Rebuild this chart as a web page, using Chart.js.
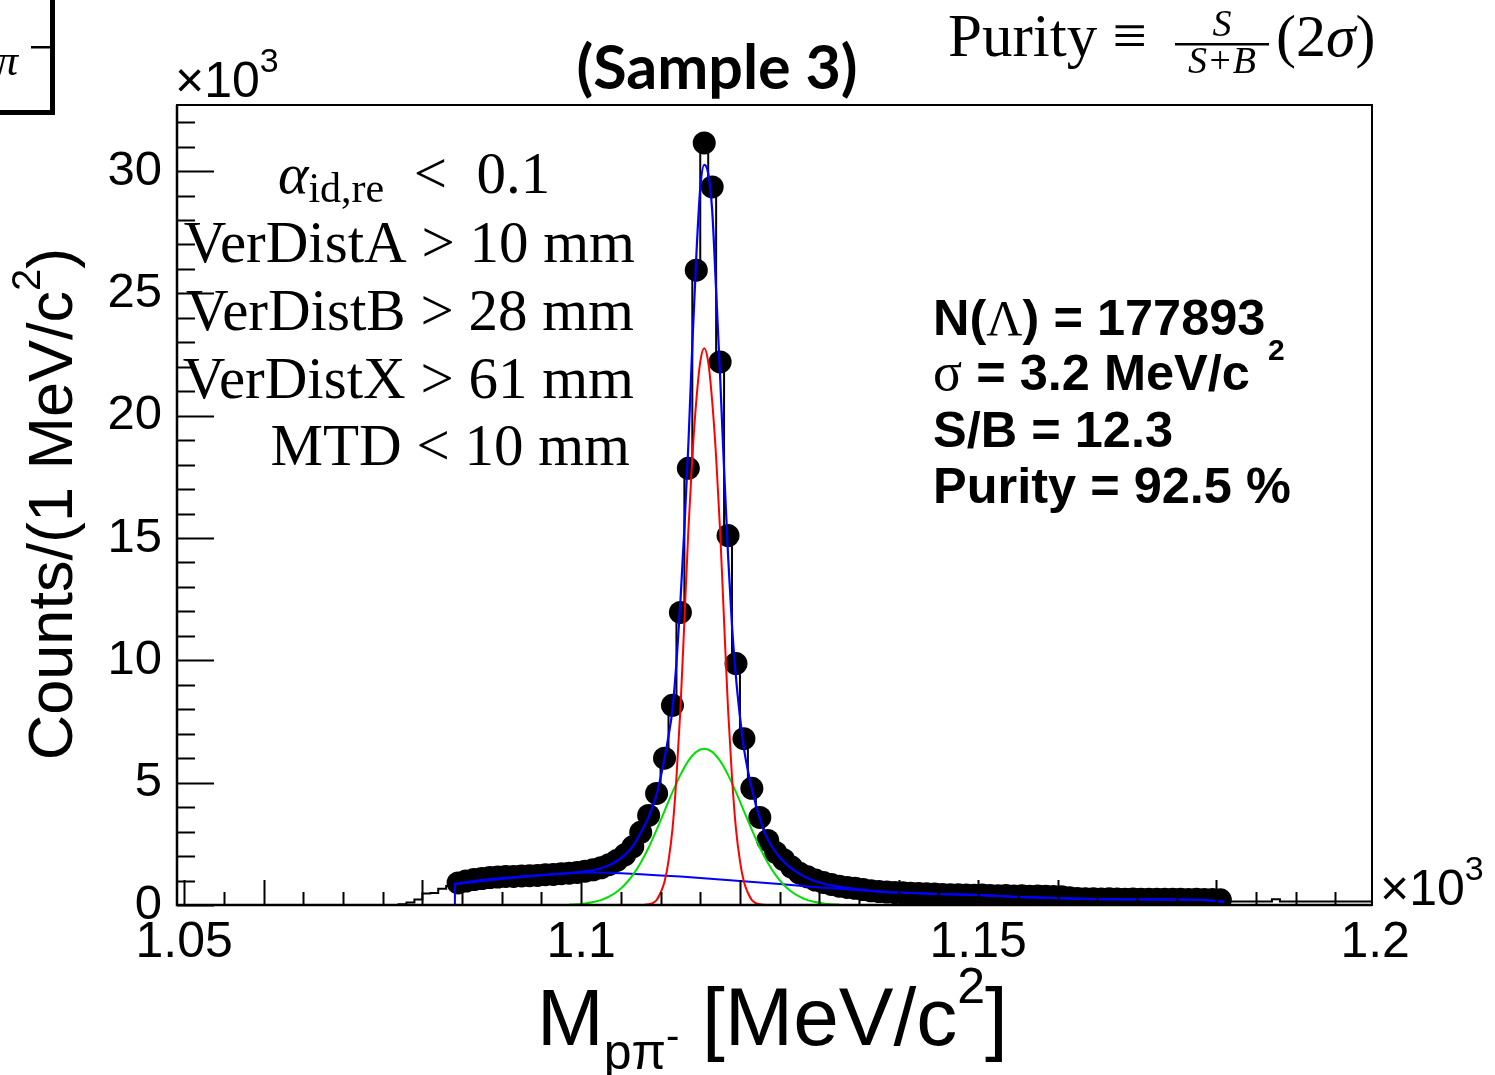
<!DOCTYPE html>
<html>
<head>
<meta charset="utf-8">
<script src="https://cdn.jsdelivr.net/npm/chart.js@4.4.1/dist/chart.umd.min.js"></script>
<style>
  html, body { margin: 0; padding: 0; background: #fff; }
  #wrap { width: 1495px; height: 1075px; }
</style>
</head>
<body>
<div id="wrap"><canvas id="massChart" width="1495" height="1075"></canvas></div>
<script>
// ---- data (counts in units of 10^3, mass in units of 10^3 MeV/c^2) ----
const firstBin = 1.0845;
const binWidth = 0.001;
const counts = [
  0.90, 0.98, 1.04, 1.08, 1.12, 1.14, 1.17, 1.17, 1.19, 1.20,
  1.21, 1.24, 1.25, 1.28, 1.30, 1.33, 1.38, 1.44, 1.52, 1.65,
  1.82, 2.05, 2.38, 2.97, 3.66, 4.56, 6.00, 8.16, 11.96, 17.85,
  25.95, 31.15, 29.35, 22.2, 15.1, 9.87, 6.80, 4.77, 3.58, 2.64,
  2.15, 1.85, 1.55, 1.30, 1.15, 1.02, 0.92, 0.84, 0.77, 0.72,
  0.68, 0.63, 0.58, 0.55, 0.53, 0.51, 0.50, 0.48, 0.47, 0.46,
  0.45, 0.43, 0.42, 0.42, 0.41, 0.40, 0.41, 0.39, 0.38, 0.39,
  0.37, 0.38, 0.36, 0.37, 0.36, 0.35, 0.34, 0.30, 0.27, 0.26,
  0.26, 0.25, 0.26, 0.25, 0.24, 0.25, 0.24, 0.24, 0.23, 0.24,
  0.23, 0.23, 0.22, 0.23, 0.22, 0.22, 0.21
];
// histogram outline outside the fitted range
const lowSideCenters = [1.0765, 1.0775, 1.0785, 1.0795, 1.0805, 1.0815, 1.0825, 1.0835];
const lowSideCounts  = [0, 0.03, 0.10, 0.22, 0.47, 0.49, 0.66, 0.78];
const highSideCenters = [1.1815, 1.1825, 1.1835, 1.1845, 1.1855, 1.1865, 1.1875, 1.1885, 1.1895, 1.1905,
                         1.1915, 1.1925, 1.1935, 1.1945, 1.1955, 1.1965, 1.1975, 1.1985, 1.1995];
const highSideCounts  = [0.14, 0.14, 0.14, 0.14, 0.14, 0.14, 0.24, 0.14, 0.14, 0.14,
                         0.14, 0.14, 0.14, 0.14, 0.14, 0.14, 0.14, 0.14, 0.14];

// total fit (blue)
const totalX = [1.0841, 1.086, 1.088, 1.09, 1.092, 1.094, 1.096, 1.098, 1.1, 1.1015,
                1.1025, 1.1035, 1.1045, 1.1055, 1.1065, 1.1075, 1.1085, 1.1095, 1.11, 1.1105,
                1.111, 1.1115, 1.112, 1.1125, 1.113, 1.1135, 1.114, 1.1145, 1.115, 1.1155,
                1.116, 1.1165, 1.117, 1.1175, 1.118, 1.1185, 1.119, 1.1195, 1.12, 1.1205,
                1.121, 1.1215, 1.122, 1.1225, 1.123, 1.1235, 1.124, 1.125, 1.126, 1.127,
                1.128, 1.129, 1.13, 1.132, 1.134, 1.136, 1.138, 1.14, 1.145, 1.15,
                1.155, 1.16, 1.165, 1.17, 1.175, 1.179, 1.181];
const totalY = [0.86, 0.96, 1.04, 1.10, 1.15, 1.20, 1.24, 1.29, 1.36, 1.42,
                1.50, 1.62, 1.80, 2.05, 2.40, 2.95, 3.60, 4.50, 5.20, 6.00,
                6.90, 8.00, 9.90, 12.4, 15.4, 18.8, 22.9, 26.5, 29.3, 30.25,
                29.9, 28.4, 25.1, 21.6, 17.8, 14.3, 11.4, 9.3, 7.7, 6.4,
                5.5, 4.75, 4.10, 3.55, 3.05, 2.70, 2.40, 1.95, 1.62, 1.38,
                1.18, 1.03, 0.92, 0.77, 0.68, 0.60, 0.54, 0.51, 0.45, 0.41,
                0.33, 0.28, 0.24, 0.23, 0.22, 0.19, 0.12];

// background (blue)
const bgX = [1.0841, 1.0841, 1.0875, 1.09, 1.0925, 1.095, 1.0975, 1.1, 1.1025, 1.105,
             1.1075, 1.11, 1.1125, 1.115, 1.1175, 1.12, 1.1225, 1.125, 1.1275, 1.13,
             1.1325, 1.135, 1.1375, 1.14, 1.145, 1.15, 1.155, 1.16, 1.165, 1.17,
             1.175, 1.179, 1.181];
const bgY = [0, 0.85, 0.98, 1.06, 1.14, 1.22, 1.28, 1.33, 1.33, 1.30,
             1.26, 1.21, 1.16, 1.10, 1.04, 0.98, 0.92, 0.86, 0.79, 0.72,
             0.66, 0.60, 0.55, 0.51, 0.45, 0.41, 0.33, 0.28, 0.24, 0.23,
             0.22, 0.19, 0.12];

// narrow gaussian (red)
const narrowX = [1.108, 1.1085, 1.109, 1.1095, 1.11, 1.1105, 1.111, 1.1115, 1.112, 1.1125,
                 1.113, 1.1135, 1.114, 1.1145, 1.115, 1.1155, 1.116, 1.1165, 1.117, 1.1175,
                 1.118, 1.1185, 1.119, 1.1195, 1.12, 1.1205, 1.121, 1.1215, 1.122, 1.1225,
                 1.123, 1.1235];
const narrowY = [0.01, 0.03, 0.08, 0.2, 0.5, 0.95, 1.8, 3.1, 5.2, 8.0,
                 11.6, 15.3, 18.3, 20.6, 22.2, 22.76, 22.2, 20.6, 18.3, 15.3,
                 11.6, 8.0, 5.2, 3.1, 1.8, 0.95, 0.5, 0.2, 0.08, 0.03,
                 0.01, 0.0];

// wide gaussian (green)
const wideX = [1.0985, 1.0995, 1.1005, 1.1015, 1.1025, 1.1035, 1.1045, 1.1055, 1.1065, 1.1075,
               1.1085, 1.1095, 1.1105, 1.1115, 1.1125, 1.1135, 1.1145, 1.1155, 1.1165, 1.1175,
               1.1185, 1.1195, 1.1205, 1.1215, 1.1225, 1.1235, 1.1245, 1.1255, 1.1265, 1.1275,
               1.1285, 1.1295, 1.1305, 1.1315, 1.1325];
const wideY = [0.02, 0.03, 0.06, 0.12, 0.20, 0.34, 0.54, 0.83, 1.22, 1.73,
               2.35, 3.07, 3.84, 4.61, 5.32, 5.89, 6.26, 6.39, 6.26, 5.89,
               5.32, 4.61, 3.84, 3.07, 2.35, 1.73, 1.22, 0.83, 0.54, 0.34,
               0.20, 0.12, 0.06, 0.03, 0.02];

// axes
const xLabelTicks = [1.05, 1.1, 1.15, 1.2];
const xMajorTicks = [1.05, 1.06, 1.08, 1.10, 1.12, 1.14, 1.15, 1.16, 1.18];
const yLabelTicks = [0, 5, 10, 15, 20, 25, 30];

const SANS = '"Liberation Sans", Arial, Helvetica, sans-serif';
const SERIF = '"Liberation Serif", "Times New Roman", serif';

// ---- helpers ----
const toPoints = (xs, ys) => xs.map((x, i) => ({ x: x, y: ys[i] }));
const binCenters = counts.map((_, i) => firstBin + i * binWidth);

function drawRuns(ctx, x, y, runs, align) {
    // runs: [text, font, dy]
    let total = 0;
    runs.forEach(r => { ctx.font = r[1]; total += ctx.measureText(r[0]).width; });
    let cx = x;
    if (align === 'center') cx = x - total / 2;
    if (align === 'right') cx = x - total;
    runs.forEach(r => {
        ctx.font = r[1];
        ctx.fillText(r[0], cx, y + (r[2] || 0));
        cx += ctx.measureText(r[0]).width;
    });
    return cx;
}

// ROOT-like frame, inward ticks and annotations
const rootFrame = {
    id: 'rootFrame',
    afterDatasetsDraw(chart) {
        const { ctx, chartArea: a } = chart;
        const xs = chart.scales.x, ys = chart.scales.y;
        ctx.save();
        ctx.strokeStyle = '#000';
        ctx.lineWidth = 2;
        ctx.strokeRect(a.left, a.top, a.right - a.left, a.bottom - a.top);
        ctx.lineWidth = 2.5;
        ctx.beginPath();
        ctx.moveTo(a.left, a.top); ctx.lineTo(a.left, a.bottom); ctx.lineTo(a.right, a.bottom);
        ctx.stroke();

        // x ticks every 5 MeV
        ctx.lineWidth = 2;
        ctx.beginPath();
        for (let k = 0; k < 30; k++) {
            const v = 1.05 + k * 0.005;
            const px = Math.round(xs.getPixelForValue(v)) + 0.5;
            const tall = xMajorTicks.some(m => Math.abs(m - v) < 1e-6);
            ctx.moveTo(px, a.bottom);
            ctx.lineTo(px, a.bottom - (tall ? 25 : 13));
        }
        // y ticks every 1 (x10^3)
        for (let k = 0; k <= 32; k++) {
            const py = Math.round(ys.getPixelForValue(k)) + 0.5;
            ctx.moveTo(a.left, py);
            ctx.lineTo(a.left + (k % 5 === 0 ? 37 : 18), py);
        }
        ctx.stroke();
        ctx.restore();
    },
    afterDraw(chart) {
        const { ctx } = chart;
        ctx.save();
        ctx.fillStyle = '#000';
        ctx.textBaseline = 'alphabetic';
        ctx.textAlign = 'left';

        // x10^3 exponents
        drawRuns(ctx, 175, 97, [['\u00d710', `50px ${SANS}`], ['3', `34px ${SANS}`, -25]]);
        drawRuns(ctx, 1380, 905, [['\u00d710', `50px ${SANS}`], ['3', `34px ${SANS}`, -25]]);

        // x axis title
        drawRuns(ctx, 537, 1045, [
            ['M', `80px ${SANS}`],
            ['p\u03c0', `50px ${SANS}`, 24],
            ['-', `40px ${SANS}`, 4],
            [' [MeV/c', `82px ${SANS}`],
            ['2', `50px ${SANS}`, -42],
            [']', `82px ${SANS}`]
        ]);

        // y axis title (rotated)
        ctx.save();
        ctx.translate(72, 504);
        ctx.rotate(-Math.PI / 2);
        drawRuns(ctx, 0, 0, [
            ['Counts/(1 MeV/c', `63px ${SANS}`],
            ['2', `40px ${SANS}`, -32],
            [')', `63px ${SANS}`]
        ], 'center');
        ctx.restore();

        // title
        ctx.font = `bold 61px Lato, "Open Sans", sans-serif`;
        ctx.textAlign = 'center';
        ctx.fillText('(Sample 3)', 717, 89);
        ctx.textAlign = 'left';

        // purity definition
        drawRuns(ctx, 948, 56, [['Purity \u2261', `61px ${SERIF}`]]);
        ctx.font = `italic 38px ${SERIF}`;
        ctx.textAlign = 'center';
        ctx.fillText('S', 1222, 36);
        ctx.fillText('S+B', 1222, 73);
        ctx.textAlign = 'left';
        ctx.fillRect(1175, 43, 94, 2.5);
        drawRuns(ctx, 1276, 56, [['(2', `60px ${SERIF}`], ['\u03c3', `italic 60px ${SERIF}`], [')', `60px ${SERIF}`]]);

        // selection cuts
        drawRuns(ctx, 278, 193, [
            ['\u03b1', `italic 58px ${SERIF}`],
            ['id,re', `42px ${SERIF}`, 9],
            ['  <  0.1', `59px ${SERIF}`]
        ]);
        const C = `59px ${SERIF}`;
        drawRuns(ctx, 635, 262, [['VerDistA > 10 mm', C]], 'right');
        drawRuns(ctx, 634, 330, [['VerDistB > 28 mm', C]], 'right');
        drawRuns(ctx, 634, 398, [['VerDistX > 61 mm', C]], 'right');
        drawRuns(ctx, 630, 465, [['MTD < 10 mm', C]], 'right');

        // fit results
        const B = `bold 50.5px ${SANS}`;
        drawRuns(ctx, 933, 335, [['N(', B], ['\u039b', `50px ${SERIF}`], [') = 177893', B]]);
        drawRuns(ctx, 933, 390, [['\u03c3', `54px ${SERIF}`], [' = 3.2 MeV/c', B]]);
        ctx.font = `bold 30px ${SANS}`;
        ctx.fillText('2', 1268, 360);
        drawRuns(ctx, 933, 447, [['S/B = 12.3', B]]);
        drawRuns(ctx, 933, 503, [['Purity = 92.5 %', B]]);

        // corner fragment of neighbouring pad
        ctx.font = `italic 44px ${SERIF}`;
        ctx.fillText('\u03c0', -4, 75);
        ctx.fillRect(31, 46, 19, 2.5);
        ctx.fillRect(50, 0, 5, 115);
        ctx.fillRect(0, 110, 55, 5);
        ctx.restore();
    }
};

const ctx = document.getElementById('massChart').getContext('2d');
new Chart(ctx, {
    type: 'scatter',
    data: {
        datasets: [
            {
                label: 'Total fit', type: 'line',
                data: toPoints(totalX, totalY),
                borderColor: '#0000ff', borderWidth: 2.2, pointRadius: 0,
                cubicInterpolationMode: 'monotone', fill: false, order: 1
            },
            {
                label: 'Background', type: 'line',
                data: toPoints(bgX, bgY),
                borderColor: '#0000ff', borderWidth: 2, pointRadius: 0,
                tension: 0, fill: false, order: 2
            },
            {
                label: 'Narrow Gaussian', type: 'line',
                data: toPoints(narrowX, narrowY),
                borderColor: '#ff0000', borderWidth: 2, pointRadius: 0,
                cubicInterpolationMode: 'monotone', fill: false, order: 1
            },
            {
                label: 'Wide Gaussian', type: 'line',
                data: toPoints(wideX, wideY),
                borderColor: '#00e000', borderWidth: 2, pointRadius: 0,
                cubicInterpolationMode: 'monotone', fill: false, order: 1
            },
            {
                label: 'Data', type: 'scatter',
                data: toPoints(binCenters, counts),
                pointRadius: 11.5, pointBackgroundColor: '#000', pointBorderColor: '#000',
                pointBorderWidth: 0, order: 5
            },
            {
                label: 'Histogram', type: 'line',
                data: toPoints(lowSideCenters.concat(binCenters, highSideCenters),
                               lowSideCounts.concat(counts, highSideCounts)),
                stepped: 'middle', borderColor: '#000', borderWidth: 2, pointRadius: 0,
                fill: false, order: 6
            }
        ]
    },
    options: {
        responsive: false,
        animation: false,
        layout: { padding: { top: 105, right: 123, left: 0, bottom: 0 } },
        plugins: { legend: { display: false }, tooltip: { enabled: false } },
        scales: {
            x: {
                type: 'linear', min: 1.0491, max: 1.1996,
                grid: { display: false, drawTicks: false },
                border: { display: false },
                afterBuildTicks: s => { s.ticks = xLabelTicks.map(v => ({ value: v })); },
                afterFit: s => { s.height = 170; },
                ticks: {
                    font: { family: SANS, size: 50 }, color: '#000', padding: 8,
                    maxRotation: 0, autoSkip: false,
                    callback: v => String(+Number(v).toFixed(2))
                }
            },
            y: {
                min: 0, max: 32.7,
                grid: { display: false, drawTicks: false },
                border: { display: false },
                afterBuildTicks: s => { s.ticks = yLabelTicks.map(v => ({ value: v })); },
                afterFit: s => { s.width = 177; },
                ticks: {
                    font: { family: SANS, size: 49 }, color: '#000', padding: 15,
                    callback: v => String(v)
                }
            }
        }
    },
    plugins: [rootFrame]
});
</script>
</body>
</html>
